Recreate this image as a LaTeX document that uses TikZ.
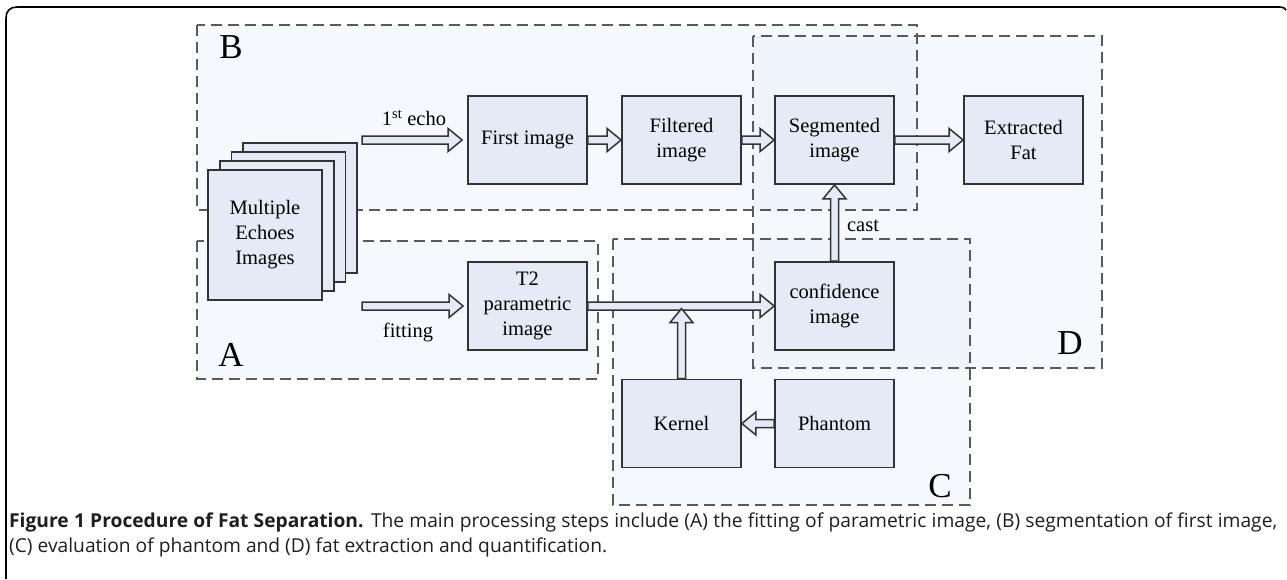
\documentclass[tikz,border=0pt]{standalone}
\usepackage{fontspec}
\setmainfont[Ligatures=NoCommon]{Liberation Serif}
\newfontfamily\capfont[Ligatures=NoCommon]{Open Sans}
\usetikzlibrary{calc}

\definecolor{boxfill}{HTML}{E4EBF6}
\definecolor{panelfill}{HTML}{E9EFF9}
\definecolor{dashgray}{HTML}{5A5A5A}
\definecolor{edge}{HTML}{333333}
\definecolor{captext}{HTML}{1E1E1E}

\tikzset{
  panel/.style={draw=dashgray, line width=2.4pt, dash pattern=on 11pt off 6pt},
  panelbg/.style={fill=panelfill, fill opacity=0.45},
  panellabel/.style={font=\fontsize{35}{40}\selectfont, inner sep=0pt},
  stepbox/.style={draw=edge, line width=1.8pt, fill=boxfill,
    minimum width=119pt, minimum height=88pt, inner sep=0pt, align=center,
    font=\fontsize{20.5}{25}\selectfont},
  stackbox/.style={draw=edge, line width=1.8pt, fill=boxfill,
    minimum width=114pt, minimum height=130pt, inner sep=0pt, align=center,
    font=\fontsize{20.5}{25}\selectfont},
  edgelabel/.style={font=\fontsize{20.5}{25}\selectfont, inner sep=0pt},
  caption/.style={anchor=base west, inner sep=0pt, text=captext,
    font=\capfont\fontsize{19.2}{25}\selectfont},
  % block arrow with a hollow shaft and head, drawn between two points
  hollow/.style={draw=edge, line width=1.5pt, fill=boxfill, line join=miter,
    to path={
      ($(\tikztotarget)!14pt!(\tikztostart)$) coordinate (hb)
      ($(\tikztostart)!4pt!-90:(\tikztotarget)$)
      -- ($(hb)!4pt!-90:(\tikztotarget)$)
      -- ($(hb)!11.5pt!-90:(\tikztotarget)$)
      -- (\tikztotarget)
      -- ($(hb)!11.5pt!90:(\tikztotarget)$)
      -- ($(hb)!4pt!90:(\tikztotarget)$)
      -- ($(\tikztostart)!4pt!90:(\tikztotarget)$)
      -- cycle
    }},
}

\begin{document}
\begin{tikzpicture}[x=1pt, y=-1pt]
\useasboundingbox (0,0) rectangle (1287,579);

% figure frame
\draw[line width=1.6pt, black]
  (6,579) -- (6,18) .. controls (6,11) and (10,7) .. (17,7)
  -- (1280,7) .. controls (1283,7) and (1285,8) .. (1286,10);

% panel backgrounds
\path[panelbg] (197,25) rectangle (917,210);
\path[panelbg] (197,241) rectangle (598,379);
\path[panelbg] (613,239) rectangle (970,505);
\path[panelbg] (753,36) rectangle (1102,368);

% panel borders
\draw[panel] (197,25) rectangle (917,210);
\draw[panel] (197,241) rectangle (598,379);
\draw[panel] (613,239) rectangle (970,505);
\draw[panel] (753,36) rectangle (1102,368);

% panel letters
\node[panellabel] (lb) at (231,47) {B};
\node[panellabel] (la) at (231,355) {A};
\node[panellabel] (lc) at (940,486) {C};
\node[panellabel] (ld) at (1070,343) {D};

% stack of echo images
\node[stackbox] (s3) at (300.1,208) {};
\node[stackbox] (s2) at (288.4,217) {};
\node[stackbox] (s1) at (276.7,226) {};
\node[stackbox] (echo) at (265,235) {Multiple\\Echoes\\Images};

% processing steps
\node[stepbox] (first) at (527.5,140) {First image};
\node[stepbox] (filt)  at (681.5,140) {Filtered\\image};
\node[stepbox] (seg)   at (834.5,140) {Segmented\\image};
\node[stepbox] (fat)   at (1023.5,140) {Extracted\\Fat};
\node[stepbox] (t2)    at (527.5,306) {T2\\parametric\\image};
\node[stepbox] (conf)  at (834.5,306) {confidence\\image};
\node[stepbox] (kern)  at (681.5,423.5) {Kernel};
\node[stepbox] (phan)  at (834.5,423.5) {Phantom};

% free arrow ends
\coordinate (e0) at (362,140);
\coordinate (e1) at ([xshift=-5pt]first.west);
\coordinate (f0) at (362,306);
\coordinate (f1) at ([xshift=-4pt]t2.west);
\coordinate (kt) at ($(kern.north)+(0,-70)$);

% connectors
\draw[hollow] (e0) to (e1);
\draw[hollow] (first.east) to (filt.west);
\draw[hollow] (filt.east) to (seg.west);
\draw[hollow] (seg.east) to (fat.west);
\draw[hollow] (f0) to (f1);
\draw[hollow] (t2.east) to (conf.west);
\draw[hollow] (kern.north) to (kt);
\draw[hollow] (phan.west) to (kern.east);
\draw[hollow] (conf.north) to (seg.south);

% connector labels
\node[edgelabel] (l1) at (414,118) {1\textsuperscript{st} echo};
\node[edgelabel] (l2) at (408,332) {fitting};
\node[edgelabel] (l3) at (863,226) {cast};

% caption: first line justified to the full width
\node[caption] (cap1) at (9,527)
  {\makebox[1268pt][s]{\textbf{Figure 1 Procedure of Fat Separation.} The main processing steps include (A) the fitting of parametric image, (B) segmentation of first image,}};
\node[caption] (cap2) at (9,552)
  {(C) evaluation of phantom and (D) fat extraction and quantification.};
\end{tikzpicture}
\end{document}
